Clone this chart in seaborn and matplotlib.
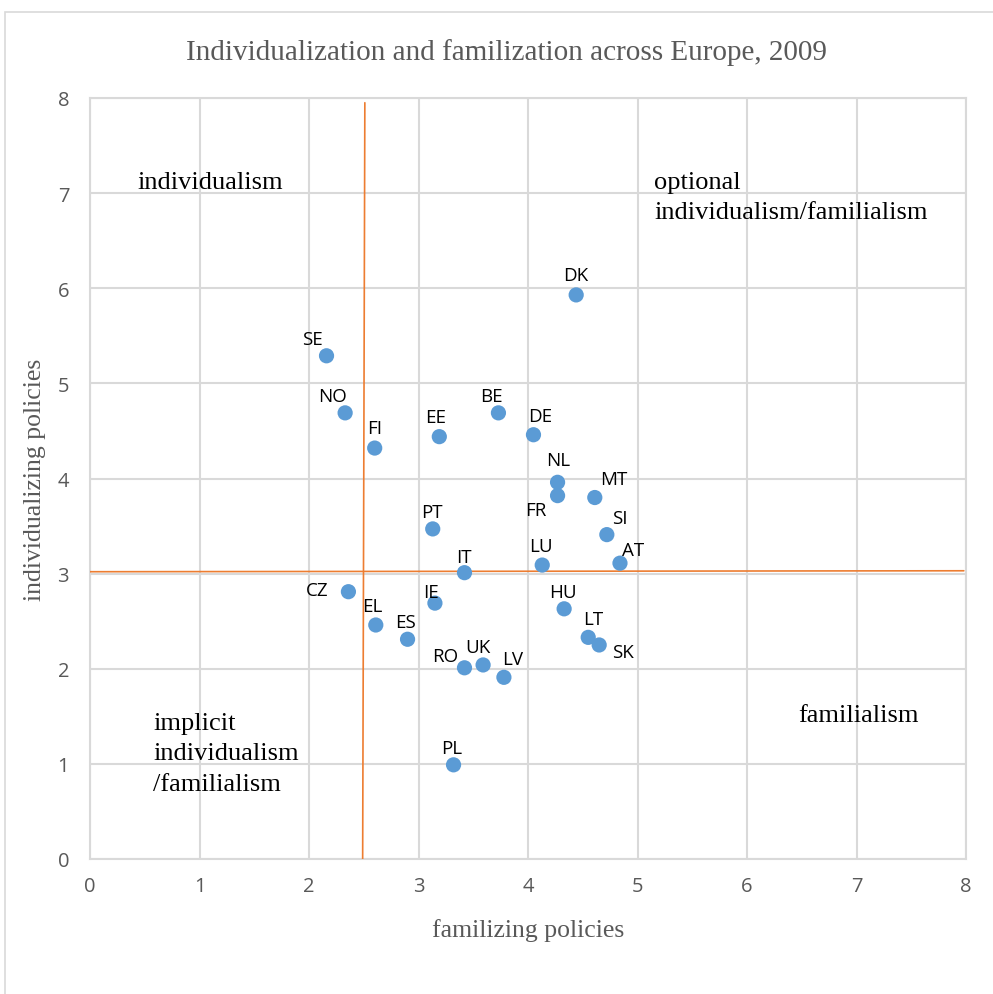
import matplotlib
matplotlib.use("Agg")
import matplotlib.pyplot as plt
import seaborn as sns
import pandas as pd
from matplotlib.patches import Rectangle

# ── Data ──────────────────────────────────────────────────────────────────────

countries = ["DK", "SE", "NO", "FI", "EE", "BE", "DE", "NL", "FR", "MT", "SI", "AT", "LU",
             "PT", "IT", "CZ", "IE", "EL", "ES", "HU", "LT", "SK", "RO", "UK", "LV", "PL"]
familizing = [4.44, 2.16, 2.33, 2.60, 3.19, 3.73, 4.05, 4.27, 4.27, 4.61, 4.72, 4.84, 4.13,
              3.13, 3.42, 2.36, 3.15, 2.61, 2.90, 4.33, 4.55, 4.65, 3.42, 3.59, 3.78, 3.32]
individualizing = [5.93, 5.29, 4.69, 4.32, 4.44, 4.69, 4.46, 3.96, 3.82, 3.80, 3.41, 3.11, 3.09,
                   3.47, 3.01, 2.81, 2.69, 2.46, 2.31, 2.63, 2.33, 2.25, 2.01, 2.04, 1.91, 0.99]

# quadrant divider lines (as drawn in the original)
vline_x = [2.51, 2.49]
vline_y = [7.95, 0.0]
hline_x = [0.0, 7.98]
hline_y = [3.02, 3.03]

df = pd.DataFrame({"country": countries, "fam": familizing, "ind": individualizing})

# label offsets in pixels (dx, dy)
offsets = {
    "DK": (0, 20), "SE": (-14, 17), "NO": (-13, 17), "FI": (0, 20), "EE": (-4, 20),
    "BE": (-7, 17), "DE": (7, 19), "NL": (1, 22), "FR": (-22, -14), "MT": (19, 19),
    "SI": (13, 17), "AT": (13, 13), "LU": (-1, 19), "PT": (-1, 17), "IT": (-1, 16),
    "CZ": (-31, 2), "IE": (-4, 11), "EL": (-3, 19), "ES": (-2, 17), "HU": (-1, 17),
    "LT": (5, 18), "SK": (24, -7), "RO": (-19, 12), "UK": (-5, 18), "LV": (9, 18),
    "PL": (-2, 17),
}

# ── Style ─────────────────────────────────────────────────────────────────────

sns.set_theme(style="white")
SERIF = ["Liberation Serif", "DejaVu Serif"]
SANS = ["Open Sans", "DejaVu Sans"]
GREY_TXT = "#595959"
GRID = "#d9d9d9"

fig = plt.figure(figsize=(9.93, 9.95), dpi=100)
ax = fig.add_axes([90 / 993, 1 - 860 / 995, 876 / 993, 761 / 995])

# chart-area border (left/top visible in original crop)
fig.patches.append(Rectangle((5 / 993, -0.1), 1.2, 1 - 13 / 995 + 0.1,
                             transform=fig.transFigure, fill=False,
                             edgecolor="#d9d9d9", linewidth=1.2))

sns.scatterplot(data=df, x="fam", y="ind", ax=ax, color="#5B9BD5",
                s=120, edgecolor="none", zorder=4)

ax.plot(vline_x, vline_y, color="#ED7D31", linewidth=1.2, zorder=3)
ax.plot(hline_x, hline_y, color="#ED7D31", linewidth=1.2, zorder=3)

for _, row in df.iterrows():
    dx, dy = offsets[row["country"]]
    ax.annotate(row["country"], (row["fam"], row["ind"]), xytext=(dx, dy),
                textcoords="offset pixels", ha="center", va="center",
                fontsize=13.5, family=SANS, color="black", zorder=5)

ax.set_xlim(0, 8)
ax.set_ylim(0, 8)
ax.set_xticks(range(0, 9))
ax.set_yticks(range(0, 9))
ax.grid(True, color=GRID, linewidth=1.5)
ax.set_axisbelow(True)
for sp in ax.spines.values():
    sp.set_color(GRID)
    sp.set_linewidth(1.5)
ax.tick_params(axis="x", length=0, labelsize=14.5, labelcolor=GREY_TXT, pad=12)
ax.tick_params(axis="y", length=0, labelsize=14.5, labelcolor=GREY_TXT, pad=15)
for lab in ax.get_xticklabels() + ax.get_yticklabels():
    lab.set_family(SANS)

ax.set_xlabel("familizing policies", family=SERIF, fontsize=18.5, color=GREY_TXT, labelpad=16)
ax.set_ylabel("individualizing policies", family=SERIF, fontsize=18.5, color=GREY_TXT, labelpad=8)

# quadrant captions
qkw = dict(family=SERIF, fontsize=19, color="black", ha="left", va="center", linespacing=1.5)
ax.text(0.43, 7.12, "individualism", **qkw)
ax.text(5.15, 6.96, "optional\nindividualism/familialism", **qkw)
ax.text(0.575, 1.11, "implicit\nindividualism\n/familialism", **qkw)
ax.text(6.47, 1.51, "familialism", **qkw)

fig.text(507 / 993, 1 - 53 / 995, "Individualization and familization across Europe, 2009",
         family=SERIF, fontsize=21, color=GREY_TXT, ha="center", va="center")

plt.savefig("out.png", dpi=100)
plt.close()
